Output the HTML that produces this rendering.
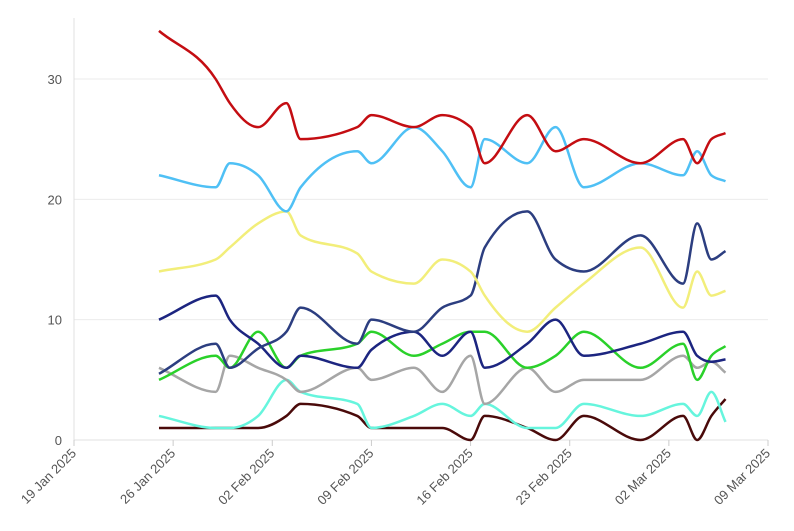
<!DOCTYPE html>
<html><head><meta charset="utf-8"><style>
body{margin:0;background:#fff;}
svg{display:block;font-family:"Liberation Sans",sans-serif;}
</style></head><body>
<svg id="chart" width="794" height="531" viewBox="0 0 794 531"></svg>
<script>
const dates=[6,10,11,13,15,16,20,21,24,26,28,29,32,34,36,40,43,44,45,46]; // days since 19 Jan 2025
const xTickLabels=["19 Jan 2025","26 Jan 2025","02 Feb 2025","09 Feb 2025","16 Feb 2025","23 Feb 2025","02 Mar 2025","09 Mar 2025"];
const yTicks=[0,10,20,30];
const redVals=[34,30,28,26,28,25,26,27,26,27,26,23,27,24,25,23,25,23,25,25.5];
const lightBlueVals=[22,21,23,22,19,21,24,23,26,24,21,25,23,26,21,23,22,24,22,21.5];
const yellowVals=[14,15,16,18,19,17,15.5,14,13,15,14,12,9,11,13,16,11,14,12,12.4];
const navyVals=[10,12,10,8,6,7,6,7.5,9,7,9,6,8,10,7,8,9,7,6.5,6.7];
const slateVals=[5.5,8,6,7.6,9,11,8,10,9,11,12,16,19,15,14,17,13,18,15,15.7];
const greenVals=[5,7,6,9,6,7,8,9,7,8,9,9,6,7,9,6,8,5,7,7.8];
const grayVals=[6,4,7,6,5,4,6,5,6,4,7,3,6,4,5,5,7,6,6.5,5.6];
const cyanVals=[2,1,1,2,5,4,3,1,2,3,2,3,1,1,3,2,3,2,4,1.5];
const maroonVals=[1,1,1,1,2,3,2,1,1,1,0,2,1,0,2,0,2,0,2,3.4];
const seriesList=[
 ["maroon",maroonVals,"#4a0a0a"],["cyan",cyanVals,"#66f5dd"],["gray",grayVals,"#a6a6a6"],
 ["green",greenVals,"#2ad12a"],["navy",navyVals,"#1c2580"],["slate",slateVals,"#2c3e80"],
 ["yellow",yellowVals,"#f2ee7a"],["lightblue",lightBlueVals,"#4fc0f5"],["red",redVals,"#c40d12"]];
const NS="http://www.w3.org/2000/svg";
const svg=document.getElementById('chart');
const X0=74,X1=768,Y0=440,Y30=79;
const x=d=>X0+(X1-X0)*d/49;
const y=v=>Y0+(Y30-Y0)*v/30;
function mk(t,a,p){const e=document.createElementNS(NS,t);for(const k in a)e.setAttribute(k,a[k]);(p||svg).appendChild(e);return e;}
// grid + y labels
yTicks.forEach(v=>{
 const g=mk('line',{x1:X0,x2:X1,y1:y(v),y2:y(v),stroke:'#ebebeb','stroke-width':1});
 
 
 const t=mk('text',{x:62,y:y(v)+5,'text-anchor':'end','font-size':13,fill:'#555'});
 t.textContent=v;
 
 
});
const ax=mk('line',{x1:X0,x2:X0,y1:18,y2:Y0,stroke:'#e0e0e0'});


const bx=mk('line',{x1:X0,x2:X1,y1:Y0,y2:Y0,stroke:'#e0e0e0'});


xTickLabels.forEach((l,i)=>{
 const xx=x(i*7);
 const tk=mk('line',{x1:xx,x2:xx,y1:Y0,y2:Y0+6,stroke:'#ccc'});
 
 
 const t=mk('text',{x:xx+3,y:Y0+14,'text-anchor':'end','font-size':13,fill:'#555',transform:`rotate(-45 ${xx+3} ${Y0+14})`});
 t.textContent=l;
 
 
});
function monotone(px,py){
 const n=px.length,dx=[],s=[],m=[];
 for(let i=0;i<n-1;i++){dx[i]=px[i+1]-px[i];s[i]=(py[i+1]-py[i])/dx[i];}
 m[0]=s[0];m[n-1]=s[n-2];
 for(let i=1;i<n-1;i++){
  if(s[i-1]*s[i]<=0)m[i]=0;
  else{const h0=dx[i-1],h1=dx[i];const p=(s[i-1]*h1+s[i]*h0)/(h0+h1);
   m[i]=(Math.sign(s[i-1])+Math.sign(s[i]))*Math.min(Math.abs(s[i-1]),Math.abs(s[i]),0.5*Math.abs(p));}
 }
 let d=`M${px[0]},${py[0]}`;
 for(let i=0;i<n-1;i++){const h=dx[i]/3;
  d+=`C${px[i]+h},${py[i]+m[i]*h} ${px[i+1]-h},${py[i+1]-m[i+1]*h} ${px[i+1]},${py[i+1]}`;}
 return d;
}
seriesList.forEach(([name,vals,col])=>{
 const p=mk('path',{d:monotone(dates.map(x),vals.map(y)),fill:'none',stroke:col,'stroke-width':2.5,'stroke-linejoin':'round'});
 
 
});
</script>
</body></html>
